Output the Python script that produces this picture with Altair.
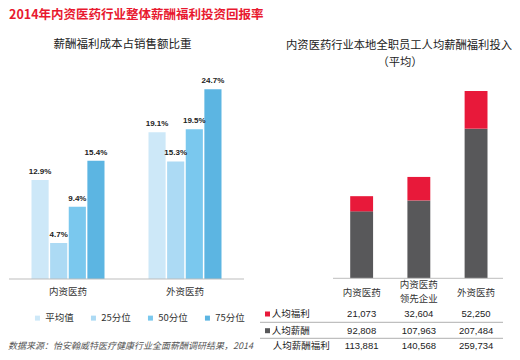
import altair as alt
import pandas as pd

# ---------------- data ----------------
groups = ["内资医药", "外资医药"]
series = ["平均值", "25分位", "50分位", "75分位"]
domestic = [12.9, 4.7, 9.4, 15.4]
foreign = [19.1, 15.3, 19.5, 24.7]
blue_colors = ["#cde8f8", "#acdaf4", "#7ac8ee", "#5cb5e2"]

firms = ["内资医药", "内资医药\n领先企业", "外资医药"]
welfare = [21073, 32604, 52250]
salary = [92808, 107963, 207484]
total = [113881, 140568, 259734]
row_names = ["人均福利", "人均薪酬", "人均薪酬福利"]
red = "#e8193a"
dark = "#58585a"

main_title = "2014年内资医药行业整体薪酬福利投资回报率"
left_title = "薪酬福利成本占销售额比重"
right_title1 = "内资医药行业本地全职员工人均薪酬福利投入"
right_title2 = "（平均）"
source = "数据来源：怡安翰威特医疗健康行业全面薪酬调研结果，2014"

CJK = "Noto Sans CJK SC"
LAT = "Liberation Sans"

# ---------------- left panel ----------------
rows = []
for g, vals in zip(groups, [domestic, foreign]):
    for s, v in zip(series, vals):
        rows.append({"group": g, "series": s, "value": v, "label": f"{v}%"})
ldf = pd.DataFrame(rows)

LW, H = 248, 344
xL = alt.Scale(domain=groups, range=[23.5, 213.5], paddingInner=0.376, paddingOuter=0)
yL = alt.Scale(domain=[-9.505, 35.286], nice=False, zero=False)
xoff = alt.XOffset("series:N", sort=series, scale=alt.Scale(paddingInner=0.08, paddingOuter=0))

base_l = alt.Chart(ldf)
bars_l = base_l.mark_bar().encode(
    x=alt.X("group:N", scale=xL, axis=None, sort=groups),
    xOffset=xoff,
    y=alt.Y("value:Q", scale=yL, axis=None),
    y2=alt.datum(0),
    color=alt.Color(
        "series:N",
        sort=series,
        scale=alt.Scale(domain=series, range=blue_colors),
        legend=alt.Legend(
            orient="none", legendX=24.7, legendY=305, direction="horizontal",
            title=None, symbolType="square", symbolSize=25, symbolStrokeWidth=0,
            labelFont=CJK, labelFontSize=9.5, labelColor="#333", labelOffset=3,
            columnPadding=14, padding=0,
        ),
    ),
)
labels_l = base_l.mark_text(dy=-8, fontSize=8, fontWeight="bold", font=LAT,
                            color="#222", baseline="middle").encode(
    x=alt.X("group:N", scale=xL, axis=None, sort=groups),
    xOffset=xoff,
    y=alt.Y("value:Q", scale=yL, axis=None),
    text="label:N",
)
base_line_l = alt.Chart(pd.DataFrame({"v": [0]})).mark_rule(color="#bdbdbd", strokeWidth=1).encode(
    y=alt.Y("v:Q", scale=yL, axis=None), x=alt.value(1), x2=alt.value(236)
)
cat_l = alt.Chart(pd.DataFrame({"group": groups})).mark_text(
    font=CJK, fontSize=9.5, color="#333", baseline="middle").encode(
    x=alt.X("group:N", scale=xL, axis=None, sort=groups),
    y=alt.value(283.7), text="group:N"
)
t_main = alt.Chart(pd.DataFrame({"t": [main_title]})).mark_text(
    font=CJK, fontSize=12.5, fontWeight="bold", color="#e8192f", align="left", baseline="middle"
).encode(x=alt.value(1), y=alt.value(6.5), text="t:N")
t_left = alt.Chart(pd.DataFrame({"t": [left_title]})).mark_text(
    font=CJK, fontSize=11.5, color="#222", baseline="middle"
).encode(x=alt.value(114.5), y=alt.value(37), text="t:N")
t_src = alt.Chart(pd.DataFrame({"t": [source]})).mark_text(
    font=CJK, fontSize=9, fontStyle="italic", color="#555", align="left", baseline="middle"
).encode(x=alt.value(0), y=alt.value(338), text="t:N")

left = alt.layer(bars_l, labels_l, base_line_l, cat_l, t_main, t_left, t_src).properties(
    width=LW, height=H)

# ---------------- right panel ----------------
rdf = pd.DataFrame({"firm": firms, "welfare": welfare, "salary": salary, "total": total})
RW = 256
xR = alt.Scale(domain=firms, range=[94.2, 231.5], paddingInner=0.6, paddingOuter=0)
yR = alt.Scale(domain=[-102200, 374829], nice=False, zero=False)
xr = alt.X("firm:N", scale=xR, axis=None, sort=firms)

base_r = alt.Chart(rdf)
bars_sal = base_r.mark_bar(color=dark).encode(
    x=xr, y=alt.Y("salary:Q", scale=yR, axis=None), y2=alt.datum(0))
bars_wel = base_r.mark_bar(color=red).encode(
    x=xr, y=alt.Y("total:Q", scale=yR, axis=None), y2="salary:Q")
base_line_r = alt.Chart(pd.DataFrame({"v": [0]})).mark_rule(color="#bdbdbd", strokeWidth=1).encode(
    y=alt.Y("v:Q", scale=yR, axis=None), x=alt.value(77), x2=alt.value(247)
)
# single-line header labels
cat_r1 = alt.Chart(pd.DataFrame({"firm": [firms[0], firms[2]]})).mark_text(
    font=CJK, fontSize=9.5, color="#333", baseline="middle").encode(
    x=xr, y=alt.value(285), text="firm:N")
# two-line header label (first line drawn at y, second below)
cat_r2 = alt.Chart(pd.DataFrame({"firm": [firms[1]]})).mark_text(
    font=CJK, fontSize=9.5, color="#333", baseline="middle",
    lineBreak="\n", lineHeight=14).encode(
    x=xr, y=alt.value(277), text="firm:N")

row_y = [306, 322.7, 338]
val_layers = []
for col, yy in zip(["welfare", "salary", "total"], row_y):
    val_layers.append(base_r.mark_text(font=LAT, fontSize=9.5, color="#222", baseline="middle").encode(
        x=xr, y=alt.value(yy), text=alt.Text(f"{col}:Q", format=",")))

sep = alt.Chart(pd.DataFrame({"y": [314.3, 330.3]})).mark_rule(color="#b0b0b0", strokeWidth=1).encode(
    y=alt.Y("y:Q", scale=None), x=alt.value(4), x2=alt.value(247))

row_lab = alt.Chart(pd.DataFrame({"name": row_names, "y": row_y, "x": [15.7, 15.7, 16.7]})).mark_text(
    font=CJK, fontSize=9.5, color="#222", align="left", baseline="middle").encode(
    x=alt.X("x:Q", scale=None), y=alt.Y("y:Q", scale=None), text="name:N")
sq = alt.Chart(pd.DataFrame({"c": [red, dark], "y": row_y[:2]})).mark_square(size=25, opacity=1).encode(
    x=alt.value(11.5), y=alt.Y("y:Q", scale=None), color=alt.Color("c:N", scale=None))

t_r1 = alt.Chart(pd.DataFrame({"t": [right_title1]})).mark_text(
    font=CJK, fontSize=11.3, color="#222", baseline="middle").encode(
    x=alt.value(143), y=alt.value(38), text="t:N")
t_r2 = alt.Chart(pd.DataFrame({"t": [right_title2]})).mark_text(
    font=CJK, fontSize=11.3, color="#222", baseline="middle").encode(
    x=alt.value(144), y=alt.value(55), text="t:N")

right = alt.layer(bars_sal, bars_wel, base_line_r, cat_r1, cat_r2, *val_layers, sep, row_lab, sq,
                  t_r1, t_r2).properties(width=RW, height=H)

chart = alt.hconcat(left, right, spacing=0, bounds="flush").properties(padding=0).configure_view(
    stroke=None).resolve_scale(color="independent")

chart.save("out.html", embed_options={"renderer": "svg", "actions": False})
